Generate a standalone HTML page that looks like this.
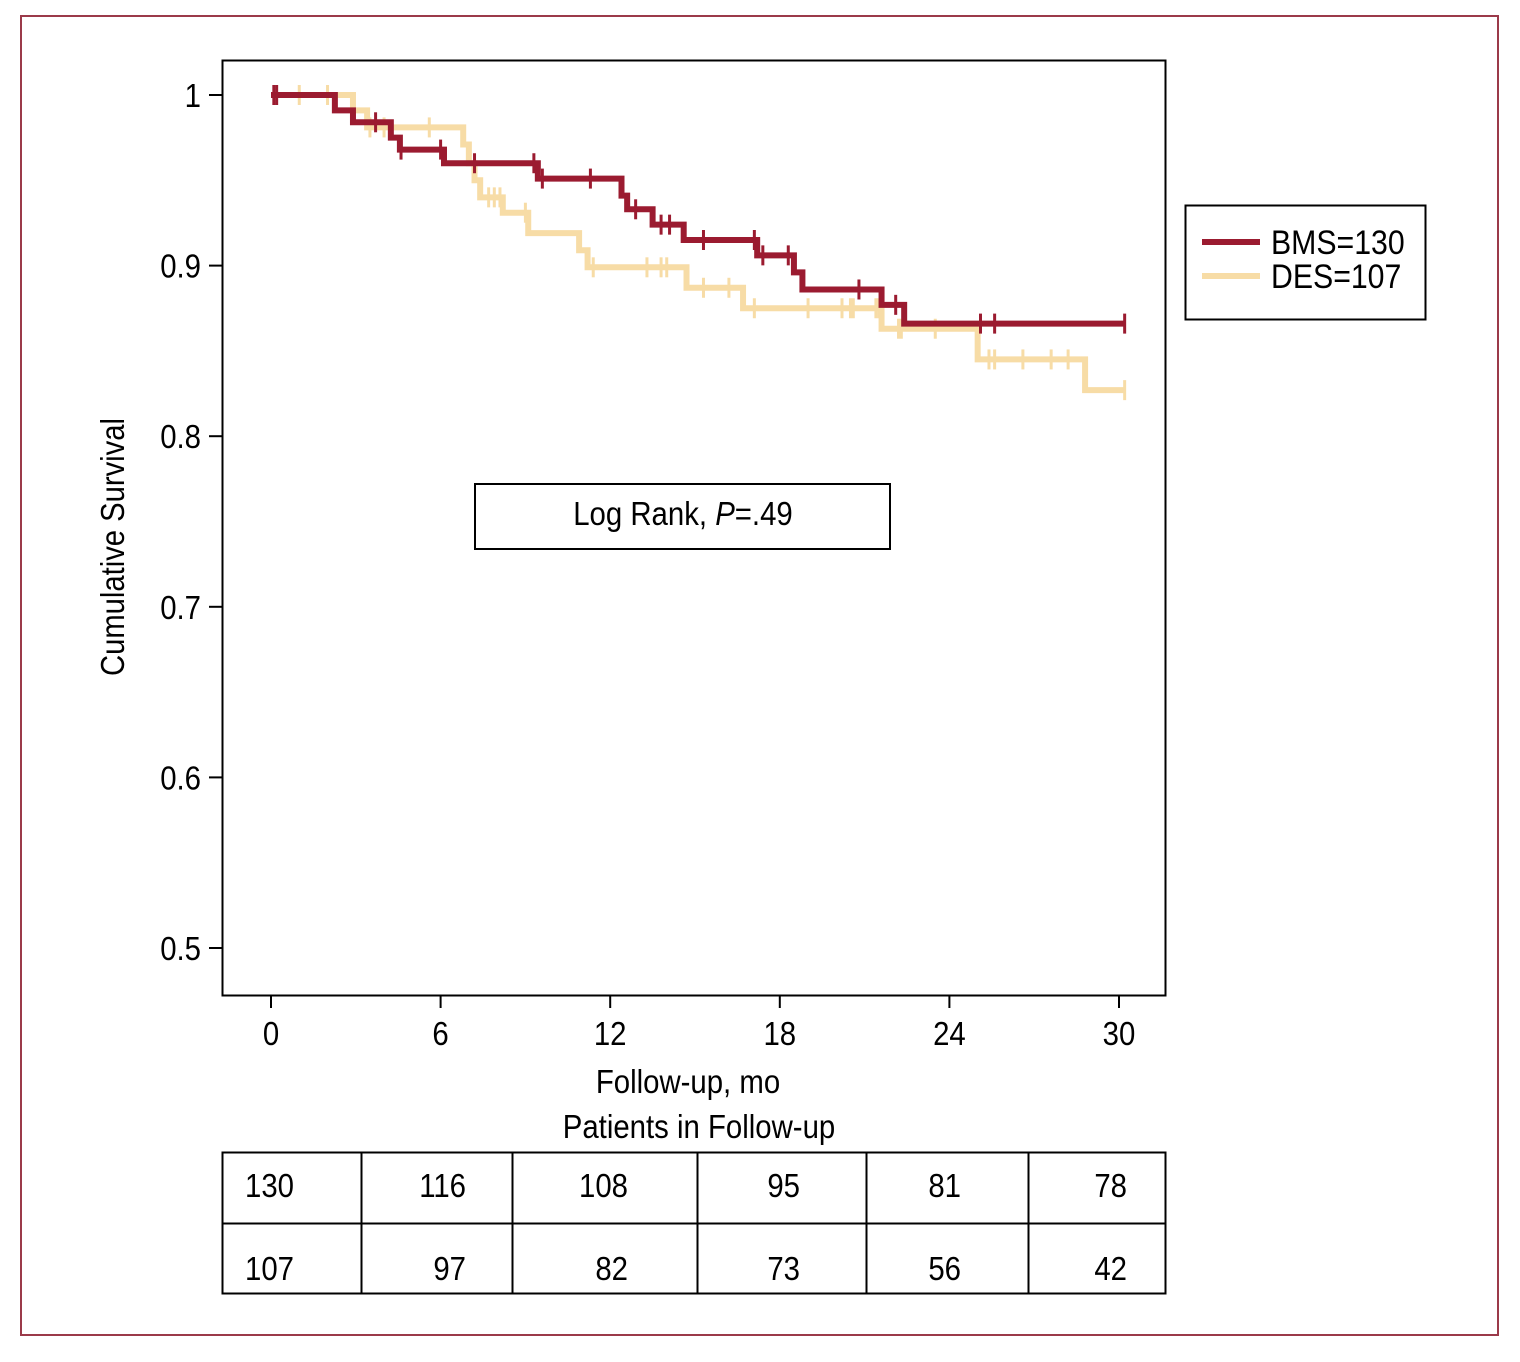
<!DOCTYPE html>
<html><head><meta charset="utf-8"><style>
html,body{margin:0;padding:0;background:#fff;}
svg{display:block;font-family:"Liberation Sans Narrow","Liberation Sans",sans-serif;}
</style></head><body>
<svg id="chart" width="1520" height="1362" viewBox="0 0 1520 1362">
<rect x="21" y="16" width="1477" height="1319" fill="none" stroke="#9b3a4a" stroke-width="2"/>
<rect x="222.5" y="60.5" width="943" height="935" fill="none" stroke="#000" stroke-width="2"/>
<g id="axes"></g>
<g id="series"></g>
<text transform="translate(124,547) rotate(-90)" text-anchor="middle" font-size="33" textLength="258" lengthAdjust="spacingAndGlyphs">Cumulative Survival</text>
<text class="n" x="688" y="1093" text-anchor="middle" font-size="33">Follow-up, mo</text>
<text class="n" x="699" y="1138" text-anchor="middle" font-size="33">Patients in Follow-up</text>
<g>
<rect x="475" y="484" width="415" height="65" fill="#fff" stroke="#000" stroke-width="2"/>
<text class="n" x="683" y="525" text-anchor="middle" font-size="33">Log Rank, <tspan font-style="italic">P</tspan>=.49</text>
</g>
<g>
<rect x="1185.5" y="205.5" width="240" height="114" fill="#fff" stroke="#000" stroke-width="2"/>
<g><line x1="1202" y1="242" x2="1260" y2="242" stroke="#9b1b30" stroke-width="6"/><text class="n" x="1271" y="254" font-size="34">BMS=130</text></g>
<g><line x1="1202" y1="276" x2="1260" y2="276" stroke="#f7dca6" stroke-width="6"/><text class="n" x="1271" y="288" font-size="34">DES=107</text></g>
</g>
<g id="table"></g>
</svg>
<script>
const xTicks=[0,6,12,18,24,30];
const yTicks=[0.5,0.6,0.7,0.8,0.9,1];
const yTickLabels=["0.5","0.6","0.7","0.8","0.9","1"];
const bmsTimes=[0,2.26,2.9,4.24,4.56,6.12,9.44,12.4,12.6,13.5,14.6,17.2,18.5,18.8,21.6,22.4,30.2];
const bmsSurv=[1,0.991,0.984,0.975,0.968,0.960,0.951,0.941,0.933,0.924,0.915,0.906,0.896,0.886,0.877,0.866,0.866];
const bmsCensor=[0.1,0.2,3.7,4.6,6.0,7.2,9.3,9.6,11.3,12.9,13.8,14.1,15.3,17.1,17.4,18.3,20.8,22.1,25.1,25.6,30.2];
const desTimes=[0,2.9,3.4,6.8,7.0,7.2,7.4,8.2,9.1,10.9,11.2,14.7,16.7,21.6,25.0,28.8,30.2];
const desSurv=[1,0.991,0.981,0.971,0.960,0.950,0.940,0.931,0.919,0.909,0.899,0.887,0.875,0.863,0.845,0.827,0.827];
const desCensor=[1.0,2.0,3.5,4.0,5.6,7.7,7.9,8.1,9.0,11.4,13.3,13.8,14.0,15.3,16.2,17.1,19.0,20.2,20.5,20.6,21.4,21.5,22.2,22.3,23.5,25.4,25.6,26.6,27.6,28.2,30.2];
const bmsAtRisk=["130","116","108","95","81","78"];
const desAtRisk=["107","97","82","73","56","42"];
const NS="http://www.w3.org/2000/svg";
const X=t=>271+t*(1119-271)/30;
const Y=v=>95+(1-v)*(948-95)/0.5;
function mk(tag,attrs,parent){const e=document.createElementNS(NS,tag);for(const k in attrs)e.setAttribute(k,attrs[k]);parent.appendChild(e);return e;}
const axes=document.getElementById('axes');
xTicks.forEach(t=>{
  const g=mk('g',{},axes);
  
  
  mk('line',{x1:X(t),x2:X(t),y1:995,y2:1008,stroke:'#000','stroke-width':2},g);
  const tx=mk('text',{x:X(t),y:1045,'text-anchor':'middle','font-size':33,'class':'n'},g);tx.textContent=t;
});
yTicks.forEach((v,i)=>{
  const g=mk('g',{},axes);
  
  
  mk('line',{x1:209,x2:222,y1:Y(v),y2:Y(v),stroke:'#000','stroke-width':2},g);
  const tx=mk('text',{x:201,y:Y(v)+12,'text-anchor':'end','font-size':33,'class':'n'},g);tx.textContent=yTickLabels[i];
});
const ser=document.getElementById('series');
function stepSurv(times,surv,t){let s=surv[0];for(let i=0;i<times.length;i++){if(times[i]<=t)s=surv[i];}return s;}
function draw(times,surv,cens,color,name){
  const g=mk('g',{},ser);
  
  
  let d='M'+X(times[0])+','+Y(surv[0]);
  for(let i=1;i<times.length;i++){d+=' H'+X(times[i])+' V'+Y(surv[i]);}
  const p=mk('path',{d:d,fill:'none',stroke:color,'stroke-width':6},g);
  
  
  cens.forEach(t=>{
    const y=Y(stepSurv(times,surv,t));
    const l=mk('line',{x1:X(t),x2:X(t),y1:y-10,y2:y+10,stroke:color,'stroke-width':3},g);
    
    
  });
}
draw(desTimes,desSurv,desCensor,'#f7dca6','des');
draw(bmsTimes,bmsSurv,bmsCensor,'#9b1b30','bms');
const tb=document.getElementById('table');
mk('rect',{x:222.5,y:1152.5,width:943,height:141,fill:'none',stroke:'#000','stroke-width':2},tb);
mk('line',{x1:222,x2:1165,y1:1223.5,y2:1223.5,stroke:'#000','stroke-width':2},tb);
const colEdges=[222,361,512,697,866,1028,1165];
colEdges.slice(1,-1).forEach(x=>mk('line',{x1:x+0.5,x2:x+0.5,y1:1152,y2:1294,stroke:'#000','stroke-width':2},tb));
const textX=[245,466,628,800,961,1127];
[bmsAtRisk,desAtRisk].forEach((row,r)=>{
  row.forEach((v,i)=>{
    const t=mk('text',{x:textX[i],y:r?1280:1197,'text-anchor':i?'end':'start','font-size':33,'class':'n'},tb);
    
    
    t.textContent=v;
  });
});
document.querySelectorAll('text.n').forEach(t=>{
  const x=parseFloat(t.getAttribute('x'));
  t.setAttribute('transform','translate('+x+',0) scale(0.89,1) translate('+(-x)+',0)');
});
</script>
</body></html>
